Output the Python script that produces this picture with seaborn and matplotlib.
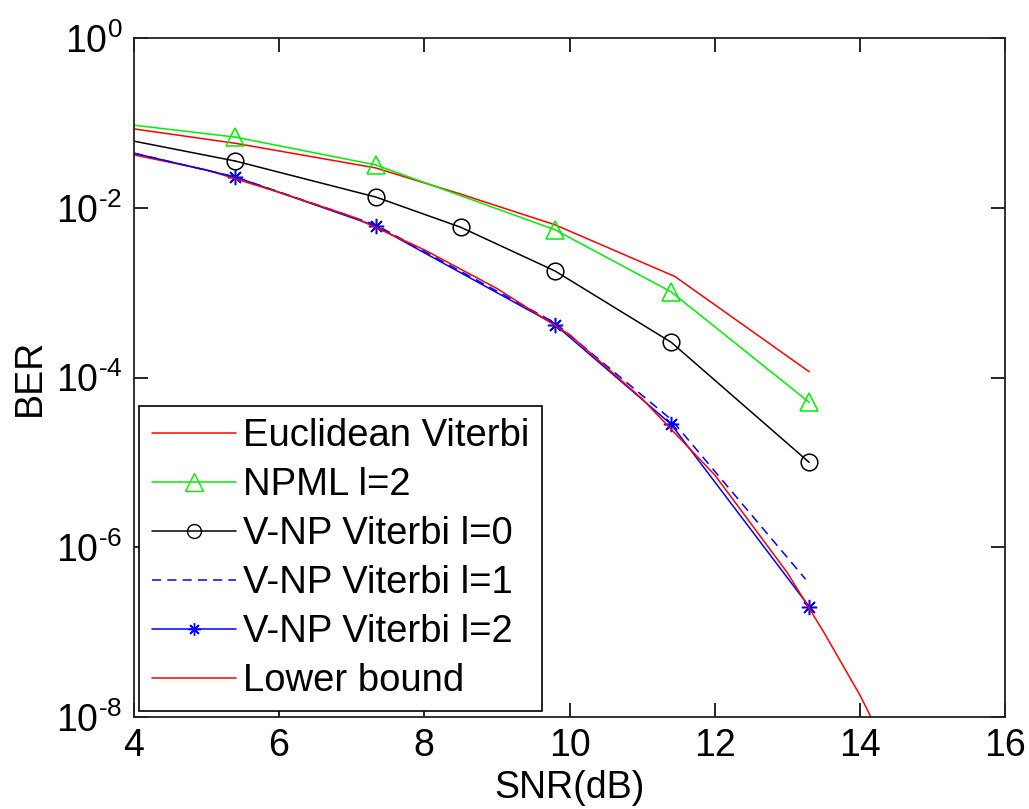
import numpy as np
import pandas as pd
import matplotlib.pyplot as plt
import seaborn as sns
from matplotlib.lines import Line2D
from matplotlib.ticker import FuncFormatter

# values (BER on log scale)
snr_euc = [4.0, 5.4, 7.33, 8.5, 9.8, 11.45, 13.3]
ber_euc = [0.085, 0.0575, 0.0295, 0.0145, 0.0063, 0.00155, 1.17e-4]

snr_npml = [4.0, 5.4, 7.33, 9.8, 11.4, 13.3]
ber_npml = [0.094, 0.068, 0.032, 0.0055, 0.00102, 5.1e-5]

snr_l0 = [4.0, 5.4, 7.33, 8.5, 9.8, 11.4, 13.3]
ber_l0 = [0.061, 0.0355, 0.0134, 0.0059, 0.0018, 2.6e-4, 1.0e-5]

snr_l1 = [4.0, 5.4, 7.33, 9.8, 11.4, 13.25]
ber_l1 = [0.044, 0.023, 0.0063, 4.4e-4, 3.2e-5, 4.2e-7]

snr_l2 = [4.0, 5.4, 7.33, 9.8, 11.4, 13.3]
ber_l2 = [0.044, 0.023, 0.0061, 4.2e-4, 2.8e-5, 2.0e-7]

snr_lb = [4.0, 5.0, 6.0, 7.0, 8.0, 9.0, 10.0, 11.0, 12.0, 13.0, 13.5, 14.0, 14.5]
ber_lb = [0.042, 0.028, 0.0152, 0.0079, 0.0032, 0.00112, 3.2e-4, 5.6e-5, 7.1e-6, 5.0e-7, 1.0e-7, 1.8e-8, 2.5e-9]

labels = ["Euclidean Viterbi", "NPML l=2", "V-NP Viterbi l=0",
          "V-NP Viterbi l=1", "V-NP Viterbi l=2", "Lower bound"]

sns.set_theme(style="ticks")
plt.rcParams['font.family'] = ['Liberation Sans', 'DejaVu Sans']
plt.rcParams['mathtext.fontset'] = 'custom'
plt.rcParams['mathtext.rm'] = 'Liberation Sans'
for k in ['text.color', 'axes.labelcolor', 'xtick.color', 'ytick.color', 'axes.edgecolor']:
    plt.rcParams[k] = 'black'

fig = plt.figure(figsize=(10.29, 8.09), dpi=100)
ax = fig.add_axes([0.130, 0.1137, 0.847, 0.8393])

lw = 1.1
red, green, blue = '#ff0000', '#00ee00', '#0000ff'
sns.lineplot(x=snr_euc, y=ber_euc, ax=ax, color=red, lw=lw)
sns.lineplot(x=snr_npml[1:], y=ber_npml[1:], ax=ax, color=green, lw=lw,
             marker='^', markersize=13, markerfacecolor='none', markeredgecolor=green,
             markeredgewidth=1.1)
sns.lineplot(x=snr_l0[1:], y=ber_l0[1:], ax=ax, color='black', lw=lw,
             marker='o', markersize=12, markerfacecolor='none', markeredgecolor='black',
             markeredgewidth=1.1)
sns.lineplot(x=snr_l1, y=ber_l1, ax=ax, color=blue, lw=lw, linestyle=(0, (6, 4)))
sns.lineplot(x=snr_l2[1:], y=ber_l2[1:], ax=ax, color=blue, lw=lw,
             marker=(8, 2, 0), markersize=11, markeredgecolor=blue, markeredgewidth=1.1)
sns.lineplot(x=snr_lb, y=ber_lb, ax=ax, color=red, lw=lw)

# first segments start at x=4 without a marker
ax.plot(snr_npml[:2], ber_npml[:2], color=green, lw=lw)
ax.plot(snr_l0[:2], ber_l0[:2], color='black', lw=lw)
ax.plot(snr_l2[:2], ber_l2[:2], color=blue, lw=lw)

ax.set_yscale('log')
ax.set_xlim(4, 16)
ax.set_ylim(1e-8, 1)
ax.set_xticks([4, 6, 8, 10, 12, 14, 16])
ax.set_yticks([1e-8, 1e-6, 1e-4, 1e-2, 1])
ax.yaxis.set_minor_locator(plt.NullLocator())
ax.yaxis.set_major_formatter(FuncFormatter(
    lambda v, p: r'$\mathregular{10^{\text{-}%d}}$' % round(-np.log10(v)) if v < 1 else r'$\mathregular{10^{0}}$'))
ax.tick_params(axis='both', which='major', direction='in', length=10, width=1.2,
               labelsize=27, top=True, right=True, pad=8)
for s in ax.spines.values():
    s.set_linewidth(1.3)
    s.set_color('#222222')

ax.set_xlabel('SNR(dB)', fontsize=27, labelpad=4)
ax.set_ylabel('BER', fontsize=27, labelpad=6)

handles = [
    Line2D([], [], color=red, lw=lw),
    Line2D([], [], color=green, lw=lw, marker='^', markersize=13, markerfacecolor='none'),
    Line2D([], [], color='black', lw=lw, marker='o', markersize=10, markerfacecolor='none'),
    Line2D([], [], color=blue, lw=lw, linestyle=(0, (6, 4))),
    Line2D([], [], color=blue, lw=lw, marker=(8, 2, 0), markersize=9),
    Line2D([], [], color=red, lw=lw),
]
leg = ax.legend(handles, labels, loc='lower left', fontsize=27.5, frameon=True, fancybox=False,
                edgecolor='black', framealpha=1, handlelength=2.2, handletextpad=0.2,
                labelspacing=0.34, borderaxespad=0.15, borderpad=0.32)
leg.get_frame().set_linewidth(1.2)

fig.savefig('out.png', dpi=100)
